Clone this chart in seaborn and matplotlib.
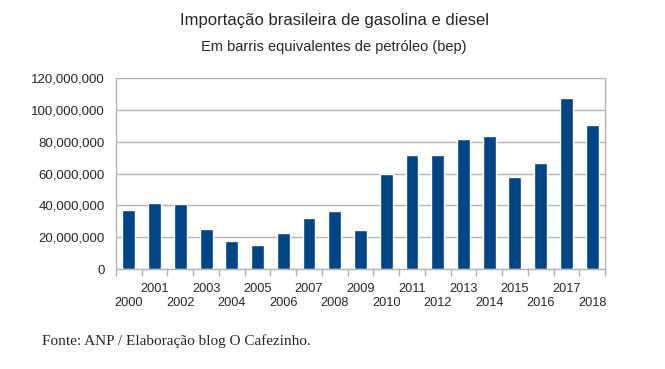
import matplotlib

matplotlib.use("Agg")

import matplotlib.pyplot as plt
import numpy as np
import seaborn as sns
from matplotlib.ticker import FuncFormatter, FixedLocator

years = list(range(2000, 2019))
imports_bep = [
    37.0e6, 41.7e6, 41.0e6, 25.0e6, 17.4e6, 15.3e6, 22.6e6, 32.0e6, 36.6e6, 24.3e6,
    59.9e6, 71.4e6, 71.6e6, 81.4e6, 83.8e6, 57.8e6, 66.6e6, 107.6e6, 90.5e6,
]
year_labels = [str(y) if y % 2 else "\n" + str(y) for y in years]

title = "Importação brasileira de gasolina e diesel"
subtitle = "Em barris equivalentes de petróleo (bep)"
source = "Fonte: ANP / Elaboração blog O Cafezinho."

sns.set_theme(style="white")
plt.rcParams["font.family"] = ["Liberation Sans", "DejaVu Sans"]

grid_grey = "#b3b3b3"
fig = plt.figure(figsize=(6.65, 3.69), dpi=100)
ax = fig.add_axes([116 / 665, 1 - 269 / 369, (605 - 116) / 665, (269 - 78) / 369])

sns.barplot(x=[str(y) for y in years], y=imports_bep, color="#004586",
            saturation=1, width=0.5, ax=ax)

ax.set_ylim(0, 120e6)
ax.set_xlim(-0.5, len(years) - 0.5)
ax.set_yticks(np.arange(0, 120e6 + 1, 20e6))
ax.yaxis.set_major_formatter(FuncFormatter(lambda v, _: f"{v:,.0f}"))
ax.yaxis.grid(True, color=grid_grey, linewidth=1)
ax.set_axisbelow(True)

ax.set_xticks(range(len(years)))
ax.set_xticklabels(year_labels, fontsize=9.2, linespacing=1.2)
ax.xaxis.set_minor_locator(FixedLocator(np.arange(-0.5, len(years), 1)))
ax.tick_params(axis="x", which="major", length=0, pad=10)
ax.tick_params(axis="x", which="minor", length=5, color=grid_grey, direction="out",
               width=1, bottom=True)
ax.tick_params(axis="y", length=5, color=grid_grey, direction="out", width=1,
               labelsize=9.5, pad=3)

for side in ["left", "right", "bottom"]:
    ax.spines[side].set_color(grid_grey)
    ax.spines[side].set_linewidth(1)
ax.spines["top"].set_visible(False)
ax.set_xlabel("")
ax.set_ylabel("")

fig.text(334 / 665, 1 - 20 / 369, title, ha="center", va="center", fontsize=12)
fig.text(334 / 665, 1 - 47 / 369, subtitle, ha="center", va="center", fontsize=10.5)
fig.text(42 / 665, 1 - 341 / 369, source, ha="left", va="center", fontsize=11,
         family=["Liberation Serif", "DejaVu Serif"])

fig.savefig("out.png", dpi=100)
plt.close(fig)
